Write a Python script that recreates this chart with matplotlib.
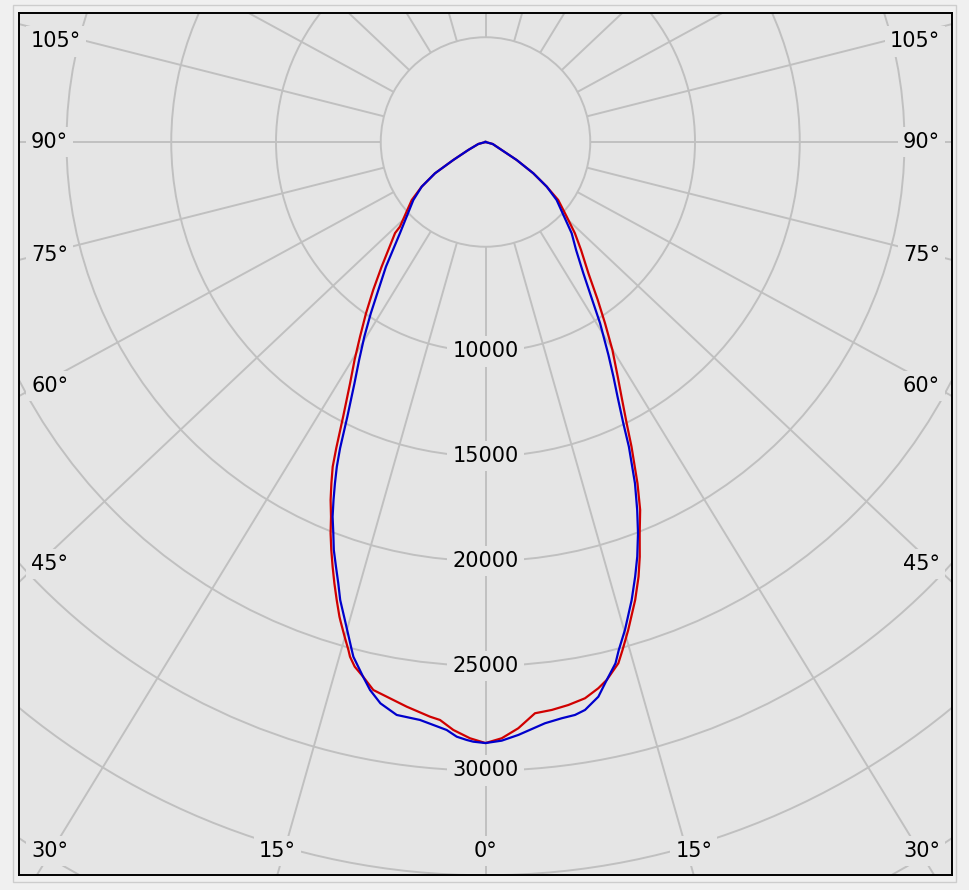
import numpy as np
import matplotlib
matplotlib.use("Agg")
import matplotlib.pyplot as plt
from matplotlib.patches import Circle, Rectangle

# luminous intensity (cd) vs gamma angle (deg, 0 = straight down, negative = left half)
red_gamma = [-80, -74.5, -65.1, -60.8, -58.2, -55.0, -51.8, -45.3, -44.8, -39.8, -37.2,
             -34.9, -32.8, -31.0, -29.3, -27.4, -26.0, -25.2, -24.3, -23.4, -22.4,
             -21.6, -20.7, -19.8, -18.9, -18.0, -17.1, -16.8, -15.9, -15.1, -14.75,
             -14.0, -12.9, -11.57, -10.1, -7.94, -5.52, -4.5, -3.13, -1.49, 0,
             1.56, 3.2, 4.95, 6.65, 8.37, 10.14, 11.67, 12.7, 14.3, 15.1, 16.3, 18.1,
             19.4, 20.4, 21.5, 22.8, 24.0, 25.6, 26.65, 28.1, 29.4, 31.4, 33.4, 35.4,
             38.1, 41.5, 44.4, 47.4, 51.4, 53.9, 56.8, 60.0, 63.7, 74.5, 80]
red_cd = [0, 357, 906, 1761, 2836, 3718, 4480, 5744, 6126, 7744, 8865,
          9970, 11056, 12134, 13209, 14764, 16245, 17131, 17876, 18616, 19350,
          20086, 20824, 21542, 22268, 22985, 23708, 23918, 24549, 25117, 25404,
          25809, 26180, 26700, 26893, 27215, 27558, 27674, 28107, 28471, 28690,
          28471, 28028, 27370, 27294, 27163, 26974, 26624, 26323, 25676, 25112, 24270, 22997,
          21994, 21122, 20080, 19050, 17837, 16131, 15022, 13786, 12858, 11627, 10364, 9250,
          7960, 6883, 6100, 5266, 4444, 3618, 2727, 1719, 862, 357, 0]

blue_gamma = [-80, -74.5, -65.1, -60.8, -58.2, -55.0, -51.2, -43.2, -38.6, -35.9, -33.8,
              -31.9, -30.1, -28.5, -26.7, -25.4, -24.6, -23.8, -23.0, -22.2, -21.25,
              -20.4, -19.4, -18.45, -17.6, -16.4, -14.75, -14.4, -12.9, -11.9, -10.6,
              -8.81, -6.47, -5.12, -3.78, -2.77, -1.80, -1.17, 0,
              1.55, 3.17, 5.84, 7.53, 8.88, 9.94, 11.5, 12.7, 14.0, 14.7, 15.95, 17.7,
              19.0, 20.1, 21.3, 22.4, 23.65, 25.2, 26.1, 27.4, 28.6, 30.0, 32.3, 34.05,
              36.7, 40.0, 43.35, 50.8, 53.9, 56.8, 60.0, 63.7, 74.5, 80]
blue_cd = [0, 357, 906, 1761, 2836, 3718, 4420, 5960, 7618, 8722, 9843,
           10946, 12030, 13110, 14678, 16186, 17050, 17809, 18568, 19315, 20043,
           20773, 21489, 22205, 22937, 23780, 25074, 25364, 26180, 26730, 27260,
           27675, 27764, 27937, 28127, 28419, 28557, 28630, 28690,
           28586, 28346, 27890, 27746, 27680, 27523, 27020, 26323, 25647, 25070, 24224, 22949,
           21942, 21078, 20040, 19002, 17785, 16076, 14952, 13697, 12755, 11735, 10235, 9102,
           7814, 6726, 5993, 4382, 3618, 2727, 1719, 862, 357, 0]

ring_values = [5000, 10000, 15000, 20000, 25000, 30000, 35000, 40000]
ring_labels = [10000, 15000, 20000, 25000, 30000]
spoke_angles = list(range(-165, 181, 15))

BG = "#e5e5e5"
GRID = "#c0c0c0"
FONT = dict(family="DejaVu Sans", size=15)

PX = 5000 / 104.75          # cd per pixel
XLIM = 466.5 * PX
YBOT = -733 * PX
YTOP = 129 * PX
STRETCH = 1.06              # spokes are drawn slightly widened


def to_xy(gamma, cd):
    g = np.radians(gamma)
    cd = np.asarray(cd, dtype=float)
    return cd * np.sin(g), -cd * np.cos(g)


fig = plt.figure(figsize=(9.69, 8.90), dpi=100, facecolor="#f0f0f0")
fig.patches.append(Rectangle((12.5 / 969, 8 / 890), 943.5 / 969, 877 / 890,
                             transform=fig.transFigure, fill=False,
                             edgecolor="#cdcdcd", linewidth=1.0))
ax = fig.add_axes([19 / 969, 15 / 890, 933 / 969, 862 / 890])
ax.set_facecolor(BG)
ax.set_xlim(-XLIM, XLIM)
ax.set_ylim(YBOT, YTOP)
ax.set_xticks([])
ax.set_yticks([])
for sp in ax.spines.values():
    sp.set_color("black")
    sp.set_linewidth(1.4)

for r in ring_values:
    ax.add_patch(Circle((0, 0), r, fill=False, edgecolor=GRID, linewidth=1.4, zorder=1))

box = dict(boxstyle="square,pad=0.25", facecolor=BG, edgecolor="none")
left_x = -XLIM + 12 * PX
right_x = XLIM - 12 * PX
probe_x = XLIM - 19 * PX
label_y_bottom = YBOT + 24 * PX
label_y_top = YTOP - 28.5 * PX

for a in spoke_angles:
    t = np.radians(a)
    dx, dy = STRETCH * np.sin(t), -np.cos(t)
    n = np.hypot(dx, dy)
    dx, dy = dx / n, dy / n
    ax.plot([5000 * dx, 80000 * dx], [5000 * dy, 80000 * dy],
            color=GRID, linewidth=1.4, zorder=1, solid_capstyle="butt")

    # where the spoke leaves the frame
    x_bot = dx * (YBOT / dy) if dy < 0 else np.inf
    txt = f"{abs(a)}°"
    if abs(x_bot) <= XLIM:
        lim = XLIM - 32 * PX
        if x_bot < -lim:
            ax.text(left_x, label_y_bottom, txt, ha="left", va="center", bbox=box, zorder=3, **FONT)
        elif x_bot > lim:
            ax.text(right_x, label_y_bottom, txt, ha="right", va="center", bbox=box, zorder=3, **FONT)
        else:
            ax.text(x_bot, label_y_bottom, txt, ha="center", va="center", bbox=box, zorder=3, **FONT)
        continue
    if dx == 0:
        continue
    y_edge = dy * (XLIM / abs(dx))
    if y_edge > YTOP:
        continue
    y_lab = min(dy * (probe_x / abs(dx)), label_y_top)
    if dx < 0:
        ax.text(left_x, y_lab, txt, ha="left", va="center", bbox=box, zorder=3, **FONT)
    else:
        ax.text(right_x, y_lab, txt, ha="right", va="center", bbox=box, zorder=3, **FONT)

for v in ring_labels:
    ax.text(0, -v, f"{v}", ha="center", va="center", bbox=box, zorder=3, **FONT)

x, y = to_xy(red_gamma, red_cd)
ax.plot(x, y, color="#d00000", linewidth=1.6, zorder=4)
x, y = to_xy(blue_gamma, blue_cd)
ax.plot(x, y, color="#0000cc", linewidth=1.6, zorder=5)

fig.savefig("out.png", dpi=100, facecolor=fig.get_facecolor())
plt.close(fig)
